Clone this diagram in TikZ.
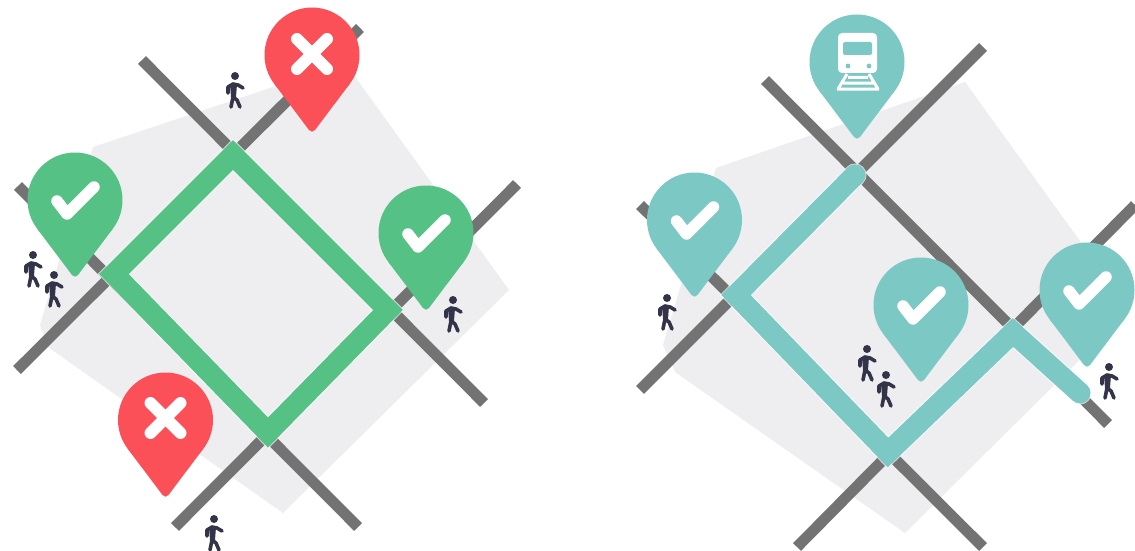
\documentclass[tikz,border=0pt]{standalone}
\definecolor{roadc}{HTML}{737373}
\definecolor{blockc}{HTML}{EEEEF0}
\definecolor{greenc}{HTML}{55C185}
\definecolor{redc}{HTML}{FB5058}
\definecolor{tealc}{HTML}{7BC8C4}
\definecolor{navyc}{HTML}{33344A}
\tikzset{
  road/.style={draw=roadc,line width=11pt},
  route/.style={line width=21pt,line join=miter},
  halo/.style={draw=white,draw opacity=.7,line width=23pt,line join=miter},
  markline/.style={draw=white,line cap=round,line join=round},
  pin/.pic={
    \fill[pic actions] (0,0) circle (47.5);
    \fill[pic actions] (-37.9,28.6) [rounded corners=5] -- (0,79) [sharp corners] -- (37.9,28.6) -- cycle;
  },
  check/.pic={\draw[markline,line width=11.5pt] (-18,1) -- (-8,14) -- (19,-13);},
  cross/.pic={\draw[markline,line width=12pt] (-15,-15) -- (15,15) (-15,15) -- (15,-15);},
  walker/.pic={
    \fill[navyc] (0,0) circle (4);
    \draw[navyc,line width=3.6pt,line cap=round,line join=round]
      (8,12) -- (3,9) -- (-2,8) -- (-7,11) -- (-7,17)
      (-2,8) -- (-2,21) -- (-4,31)
      (-2,21) -- (2,24) -- (5,31);
    \fill[navyc] (-5,8) -- (2,8) -- (1,21) -- (-4,21) -- cycle;
  },
  train/.pic={
    \fill[white,rounded corners=4] (-19,-29) rectangle (20,11);
    \fill[tealc,rounded corners=2] (-14,-20) rectangle (15,-7);
    \fill[tealc] (-9,4) circle (2.4) (12,4) circle (2.4);
    \draw[white,line width=3pt] (-10,12) -- (-19,27) (12,12) -- (21,27)
      (-9,15.5) -- (11,15.5) (-14,21) -- (16,21) (-20,27) -- (22,27);
  }
}
\begin{document}
\begin{tikzpicture}[x=1pt,y=-1pt]
\useasboundingbox[fill=white] (0,0) rectangle (1135,551);
% left panel
\fill[blockc] (93,147) -- (345,63) -- (509,290) -- (283,513) -- (48,347) -- (40,325) -- cycle;
\draw[road] (142,60) -- (484,403);
\draw[road] (18,186) -- (358,527);
\draw[road] (17,370) -- (360,28);
\draw[road] (175,527) -- (517,184);
\draw[halo] (233,155) -- (114,274) -- (268,432.5) -- (388,310) -- cycle;
\draw[route,greenc] (233,155) -- (114,274) -- (268,432.5) -- (388,310) -- cycle;
\pic[fill=greenc] at (75,200) {pin}; \pic at (75,200) {check};
\pic[fill=greenc] at (426,233) {pin}; \pic at (426,233) {check};
\pic[fill=redc] at (312,55) {pin}; \pic at (312,54) {cross};
\pic[fill=redc] at (165.5,420) {pin}; \pic at (165.5,418) {cross};
\pic at (235,76) {walker};
\pic at (33,255) {walker};
\pic at (54,275) {walker};
\pic at (453,300) {walker};
\pic at (214,519) {walker};
% right panel
\fill[blockc] (716,168) -- (965,82) -- (1130,310) -- (905,533) -- (675,372) -- (663,345) -- cycle;
\draw[road] (765,80) -- (1108,424);
\draw[road] (640,205) -- (983,547);
\draw[road] (640,390) -- (983,47);
\draw[road] (797,547) -- (1135,205);
\draw[halo,line cap=round] (855,175) -- (736,295) -- (888,452.5) -- (1013,332.5) -- (1080,393);
\draw[route,tealc,line cap=round] (855,175) -- (736,295) -- (888,452.5) -- (1013,332.5) -- (1080,393);
\pic[fill=tealc] at (857,62) {pin}; \pic at (857,62) {train};
\pic[fill=tealc] at (694.5,220) {pin}; \pic at (694.5,220) {check};
\pic[fill=tealc] at (921,305) {pin}; \pic at (921,305) {check};
\pic[fill=tealc] at (1087,290) {pin}; \pic at (1087,290) {check};
\pic at (667,298) {walker};
\pic at (867,349) {walker};
\pic at (886,375) {walker};
\pic at (1109,367) {walker};
\end{tikzpicture}
\end{document}
